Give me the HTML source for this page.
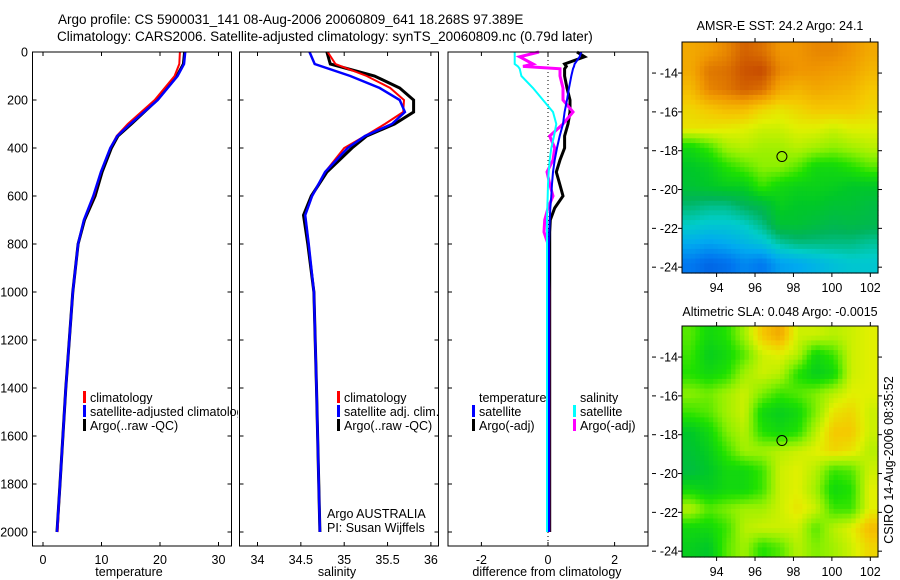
<!DOCTYPE html>
<html><head><meta charset="utf-8"><style>
body{margin:0;background:#fff;width:900px;height:580px;overflow:hidden}
svg{display:block;font-family:"Liberation Sans",sans-serif}
</style></head><body>
<svg id="fig" width="900" height="580" viewBox="0 0 900 580" xmlns="http://www.w3.org/2000/svg">
<defs><clipPath id="p1clip"><rect x="32" y="52" width="206" height="494"/></clipPath></defs>
<text x="58" y="24" font-size="13.5">Argo profile: CS 5900031_141 08-Aug-2006 20060809_641 18.268S 97.389E</text>
<text x="57" y="41" font-size="13.5">Climatology: CARS2006. Satellite-adjusted climatology: synTS_20060809.nc (0.79d later)</text>
<g id="g"></g>
<text x="780" y="30" font-size="12.5" text-anchor="middle">AMSR-E SST: 24.2 Argo: 24.1</text>
<text x="780" y="316" font-size="12.5" text-anchor="middle">Altimetric SLA: 0.048 Argo: -0.0015</text>
<text transform="translate(893,460) rotate(-90)" font-size="12.5" text-anchor="middle">CSIRO 14-Aug-2006 08:35:52</text>
</svg>
<script>
// ---- profile data ----
const depthT = [0,50,100,200,300,350,400,500,600,700,800,1000,1200,1400,1600,1800,2000];
const tempClim = [23.4,23.3,22.5,19.1,14.5,12.6,11.5,9.9,8.7,7.0,6.0,5.1,4.5,3.9,3.4,2.9,2.5];
const tempSat  = [24.3,24.1,23.0,19.6,14.9,12.7,11.5,9.9,8.6,7.0,6.0,5.1,4.5,3.9,3.4,2.9,2.4];
const tempArgo = [24.2,24.0,22.9,19.5,15.1,12.8,11.7,10.1,8.9,7.1,6.0,5.1,4.5,3.9,3.4,2.9,2.4];
const depthS = [0,50,100,150,200,250,300,350,400,500,600,680,800,1000,1400,2000];
const salClim = [34.81,34.9,35.26,35.53,35.69,35.68,35.47,35.24,35.0,34.78,34.63,34.55,34.59,34.65,34.68,34.72];
const salSat  = [34.6,34.66,35.07,35.41,35.64,35.7,35.55,35.24,35.04,34.78,34.63,34.55,34.59,34.65,34.68,34.72];
const salArgo = [34.8,34.84,35.35,35.64,35.8,35.8,35.58,35.26,35.09,34.8,34.62,34.53,34.58,34.65,34.68,34.72];
const depthD = [0,20,50,60,70,100,150,200,250,300,350,400,450,500,550,600,650,700,750,800,1000,1400,2000];
const dTSat  = [1.0,0.95,0.8,0.78,0.75,0.7,0.63,0.57,0.5,0.45,0.35,0.27,0.2,0.15,0.12,0.1,0.07,0.05,0.04,0.03,0.03,0.03,0.03];
const dTArgo = [0.87,1.1,0.5,0.55,0.5,0.5,0.57,0.66,0.66,0.6,0.5,0.5,0.36,0.25,0.35,0.45,0.2,0.07,0.05,0.05,0.05,0.05,0.05];
const dSSat  = [-1.0,-1.0,-1.0,-0.9,-0.85,-0.8,-0.45,-0.15,0.15,0.25,0.18,0.1,0.05,0.02,0.0,-0.01,-0.02,-0.03,-0.03,-0.03,-0.03,-0.03,-0.03];
const dSArgo = [-0.27,-0.85,-0.45,-0.75,0.36,0.36,0.45,0.45,0.75,0.45,0.05,0.2,0.15,-0.03,0.05,0.15,0.0,-0.1,-0.12,0.0,0.02,0.02,0.02];
const depthTicks = [0,200,400,600,800,1000,1200,1400,1600,1800,2000];
const tempTicks = [0,10,20,30];
const salTicks = [34,34.5,35,35.5,36];
const diffTicks = [-2,0,2];
// ---- map data (rows top->bottom, lat -12.9..-23.9; cols lon ~92.7..101.9) ----
const sstGrid = [
[0.85,0.87,0.9,0.95,0.93,0.88,0.88,0.9,0.9,0.88,0.85],
[0.85,0.92,0.93,0.97,0.98,0.9,0.88,0.88,0.87,0.86,0.83],
[0.82,0.9,0.92,0.95,0.93,0.85,0.83,0.85,0.84,0.83,0.8],
[0.78,0.8,0.82,0.82,0.78,0.76,0.78,0.8,0.8,0.8,0.78],
[0.76,0.76,0.75,0.74,0.72,0.72,0.74,0.74,0.72,0.74,0.74],
[0.55,0.6,0.68,0.7,0.68,0.68,0.7,0.68,0.66,0.68,0.7],
[0.5,0.52,0.58,0.62,0.66,0.66,0.62,0.55,0.55,0.58,0.62],
[0.48,0.5,0.52,0.52,0.6,0.55,0.53,0.53,0.52,0.5,0.5],
[0.4,0.38,0.38,0.42,0.45,0.52,0.5,0.5,0.48,0.48,0.46],
[0.32,0.3,0.3,0.32,0.38,0.48,0.48,0.46,0.44,0.45,0.44],
[0.22,0.2,0.22,0.25,0.28,0.35,0.38,0.38,0.38,0.38,0.36],
[0.12,0.08,0.1,0.15,0.12,0.2,0.22,0.25,0.28,0.3,0.3]];
const slaGrid = [
[0.62,0.55,0.58,0.68,0.8,0.85,0.72,0.72,0.7,0.72,0.74],
[0.6,0.52,0.55,0.62,0.72,0.74,0.7,0.55,0.6,0.72,0.74],
[0.58,0.55,0.58,0.68,0.72,0.7,0.58,0.52,0.55,0.72,0.74],
[0.66,0.64,0.68,0.72,0.65,0.6,0.62,0.65,0.7,0.74,0.74],
[0.6,0.62,0.68,0.72,0.55,0.52,0.55,0.65,0.76,0.78,0.72],
[0.5,0.55,0.65,0.7,0.58,0.55,0.58,0.7,0.8,0.8,0.72],
[0.48,0.52,0.6,0.68,0.68,0.7,0.72,0.74,0.78,0.76,0.7],
[0.46,0.5,0.55,0.55,0.6,0.72,0.74,0.7,0.6,0.62,0.72],
[0.55,0.52,0.55,0.55,0.6,0.72,0.74,0.68,0.55,0.58,0.74],
[0.7,0.62,0.65,0.68,0.68,0.72,0.76,0.72,0.6,0.6,0.74],
[0.55,0.55,0.6,0.7,0.72,0.72,0.72,0.62,0.7,0.74,0.82],
[0.52,0.5,0.62,0.68,0.58,0.62,0.7,0.65,0.68,0.72,0.78]];
const lonTicks = [94,96,98,100,102];
const latTicks = [-14,-16,-18,-20,-22,-24];
const argoLon = 97.4, argoLat = -18.3;

const NS='http://www.w3.org/2000/svg';
const G=document.getElementById('g');
function mk(tag,attrs,parent){const e=document.createElementNS(NS,tag);for(const k in attrs)e.setAttribute(k,attrs[k]);(parent||G).appendChild(e);return e;}
function txt(s,x,y,attrs,parent){const e=mk('text',Object.assign({x:x,y:y,'font-size':12.5},attrs||{}),parent);e.textContent=s;return e;}

const yD = d => 52 + d*0.24;
const panels = [
 {name:'temperature',x0:32.5,x1:231.5,fx:v=>43+v*5.85,ticks:tempTicks,label:'temperature',lx:129},
 {name:'salinity',x0:239.5,x1:438.5,fx:v=>257.5+(v-34)*86.7,ticks:salTicks,label:'salinity',lx:337},
 {name:'difference',x0:448,x1:648,fx:v=>548+v*33.3,ticks:diffTicks,label:'difference from climatology',lx:547}
];
function line(fx,xs,ds,color,w,name){
  const pts=xs.map((v,i)=>fx(v).toFixed(1)+','+yD(ds[i]).toFixed(1)).join(' ');
  const p=mk('polyline',{points:pts,fill:'none',stroke:color,'stroke-width':w,'stroke-linejoin':'miter'});
  
  
}
// zero dotted line
mk('line',{x1:548,y1:52,x2:548,y2:546,stroke:'#000','stroke-dasharray':'1,3'});
// panel 1 series
line(panels[0].fx,tempArgo,depthT,'#000',3,'temp-argo-line');
line(panels[0].fx,tempClim,depthT,'#f00',2,'temp-climatology-line');
line(panels[0].fx,tempSat,depthT,'#00f',2.5,'temp-satellite-line');
// panel 2
line(panels[1].fx,salArgo,depthS,'#000',3,'sal-argo-line');
line(panels[1].fx,salClim,depthS,'#f00',2,'sal-climatology-line');
line(panels[1].fx,salSat,depthS,'#00f',2.5,'sal-satellite-line');
// panel 3
line(panels[2].fx,dTArgo,depthD,'#000',3,'dtemp-argo-line');
line(panels[2].fx,dSArgo,depthD,'#f0f',3,'dsal-argo-line');
line(panels[2].fx,dSSat,depthD,'#0ff',2,'dsal-satellite-line');
line(panels[2].fx,dTSat,depthD,'#00f',2,'dtemp-satellite-line');

function legend(items,x,y,name,clip){
  const g=mk('g',{});
  
  
  if(clip)g.setAttribute('clip-path','url(#'+clip+')');
  items.forEach((it,i)=>{
    const yy=y+i*14;
    if(it.c){mk('rect',{x:x,y:yy-6,width:3,height:12,fill:it.c},g);}
    const w=it.t.length*6.1;
    mk('rect',{x:x+6,y:yy-7,width:w,height:14,fill:'#fff'},g);
    txt(it.t,x+7,yy+5,{},g);
  });
}
legend([{c:'#f00',t:'climatology'},{c:'#00f',t:'satellite-adjusted climatology'},{c:'#000',t:'Argo(..raw -QC)'}],83,397,'temp-legend','p1clip');
legend([{c:'#f00',t:'climatology'},{c:'#00f',t:'satellite adj. clim.'},{c:'#000',t:'Argo(..raw -QC)'}],337,397,'sal-legend');
legend([{c:null,t:'temperature'},{c:'#00f',t:'satellite'},{c:'#000',t:'Argo(-adj)'}],472,397,'diff-temp-legend');
legend([{c:null,t:'salinity'},{c:'#0ff',t:'satellite'},{c:'#f0f',t:'Argo(-adj)'}],573,397,'diff-sal-legend');

panels.forEach((P,pi)=>{
  const g=mk('g',{});
  
  
  const r=mk('rect',{x:P.x0,y:52,width:P.x1-P.x0,height:494,fill:'none',stroke:'#000','stroke-width':1},g);
  
  
  P.ticks.forEach(t=>{
    const x=P.fx(t);
    mk('line',{x1:x,y1:546,x2:x,y2:542,stroke:'#000'},g);
    mk('line',{x1:x,y1:52,x2:x,y2:56,stroke:'#000'},g);
    const tl=txt(String(t),x,564,{'text-anchor':'middle'},g);
    
    
  });
  depthTicks.forEach(d=>{
    const y=yD(d);
    mk('line',{x1:P.x0,y1:y,x2:P.x0+4,y2:y,stroke:'#000'},g);
    mk('line',{x1:P.x1,y1:y,x2:P.x1-4,y2:y,stroke:'#000'},g);
    if(pi===0){
      const tl=txt(String(d),28,y+4.5,{'text-anchor':'end'},g);
      
      
    }
  });
  const al=txt(P.label,P.lx,576,{'text-anchor':'middle'},g);
  
  
});
const t1=txt('Argo AUSTRALIA',327,518,{});


const t2=txt('PI: Susan Wijffels',327,532,{});



// ---- maps ----
const stops=[[0,[0,70,210]],[0.12,[0,120,240]],[0.22,[0,170,240]],[0.32,[0,205,200]],[0.42,[0,180,90]],[0.5,[0,200,40]],[0.58,[30,225,0]],[0.66,[140,240,0]],[0.74,[225,240,0]],[0.8,[245,200,0]],[0.88,[240,150,0]],[1,[190,60,0]]];
function cmap(v){
  for(let i=1;i<stops.length;i++){if(v<=stops[i][0]){const a=stops[i-1],b=stops[i];const f=(v-a[0])/(b[0]-a[0]);
    return 'rgb('+a[1].map((c,k)=>Math.round(c+(b[1][k]-c)*f)).join(',')+')';}}
  return 'rgb(190,60,0)';
}
function sample(grid,r,c){
  const nr=grid.length,nc=grid[0].length;
  r=Math.max(0,Math.min(nr-1,r));c=Math.max(0,Math.min(nc-1,c));
  const r0=Math.floor(r),c0=Math.floor(c),r1=Math.min(nr-1,r0+1),c1=Math.min(nc-1,c0+1);
  const fr=r-r0,fc=c-c0;
  return (grid[r0][c0]*(1-fc)+grid[r0][c1]*fc)*(1-fr)+(grid[r1][c0]*(1-fc)+grid[r1][c1]*fc)*fr;
}
function drawMap(grid,top,name){
  const L=682,R=878,T=top,B=top+231;
  const lat0=-12.4,lat1=-24.3,lon0=92.2,lon1=102.4;
  const fx=lon=>L+(lon-lon0)/(lon1-lon0)*(R-L);
  const fy=lat=>T+(lat-lat0)/(lat1-lat0)*(B-T);
  const g=mk('g',{});
  
  
  const nr=grid.length,nc=grid[0].length,S=4;
  const cw=(lon1-lon0)/(nc*S), ch=(lat1-lat0)/(nr*S);
  for(let i=0;i<nr*S;i++)for(let j=0;j<nc*S;j++){
    const v=sample(grid,(i+0.5)/S-0.5,(j+0.5)/S-0.5);
    const x=fx(lon0+j*cw),y=fy(lat0+i*ch);
    const c=mk('rect',{x:x.toFixed(1),y:y.toFixed(1),width:(fx(lon0+(j+1)*cw)-x+0.6).toFixed(1),height:(fy(lat0+(i+1)*ch)-y+0.6).toFixed(1),fill:cmap(v)},g);
    
    
  }
  mk('rect',{x:L,y:T,width:R-L,height:B-T,fill:'none',stroke:'#000'},g);
  lonTicks.forEach(lo=>{const x=fx(lo);mk('line',{x1:x,y1:B,x2:x,y2:B+4,stroke:'#000'},g);mk('line',{x1:x,y1:T,x2:x,y2:T-4,stroke:'#000'},g);
    const l=txt(String(lo),x,B+19,{'text-anchor':'middle'},g);});
  latTicks.forEach(la=>{const y=fy(la);mk('line',{x1:L,y1:y,x2:L-4,y2:y,stroke:'#000'},g);mk('line',{x1:R,y1:y,x2:R+4,y2:y,stroke:'#000'},g);
    mk('line',{x1:652,y1:y,x2:656,y2:y,stroke:'#000'},g);
    const l=txt(String(la),678,y+4.5,{'text-anchor':'end'},g);});
  const m=mk('circle',{cx:fx(argoLon),cy:fy(argoLat),r:5,fill:'none',stroke:'#000','stroke-width':1},g);
  
  
}
drawMap(sstGrid,42,'sst-map');
drawMap(slaGrid,326,'sla-map');
</script>
</body></html>
